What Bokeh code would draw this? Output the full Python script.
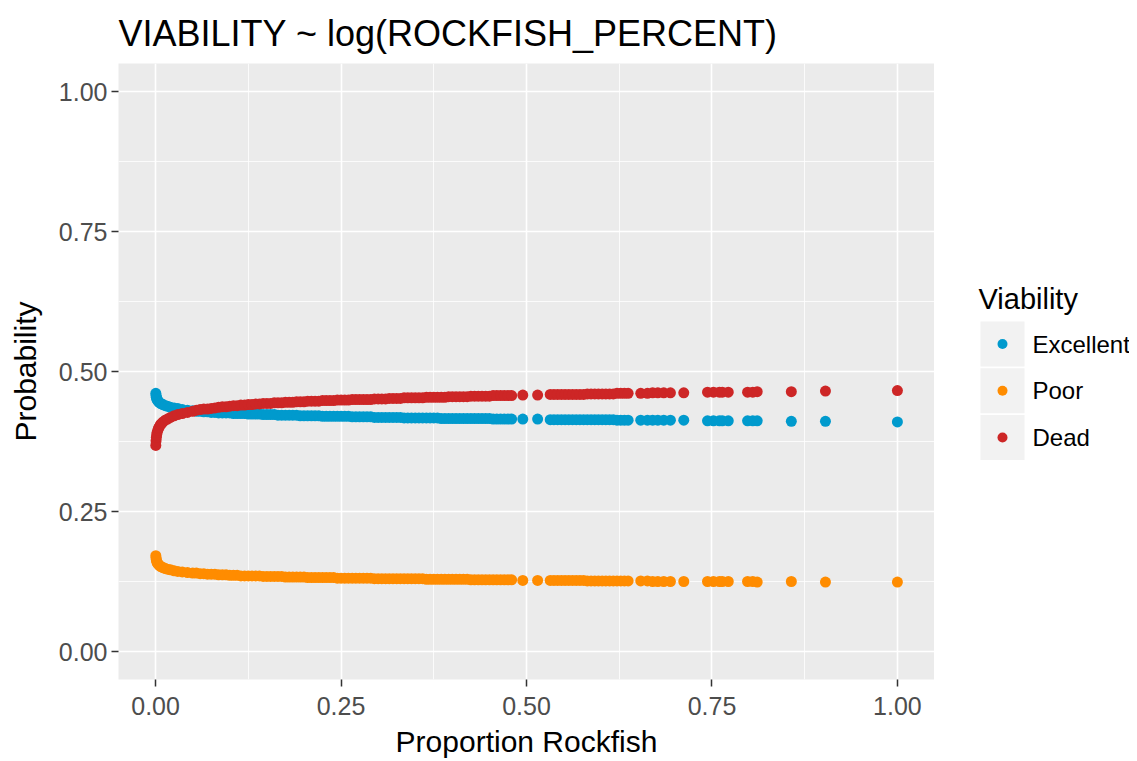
from bokeh.plotting import figure
from bokeh.models import Range1d, FixedTicker, ColumnDataSource
from bokeh.layouts import row
from bokeh.core.properties import value
from bokeh.embed import file_html
from bokeh.resources import INLINE

# ---- data ----
rockfish = [
    0.0003, 0.0006, 0.001, 0.0015, 0.002, 0.003, 0.004, 0.005, 0.0065, 0.008,
    0.010, 0.013, 0.016, 0.020, 0.025, 0.030, 0.036, 0.043, 0.050, 0.055,
    0.060, 0.065, 0.070, 0.075, 0.080, 0.085, 0.090, 0.095,
    0.100, 0.105, 0.110, 0.115, 0.120, 0.125, 0.130, 0.135, 0.140, 0.145,
    0.150, 0.155, 0.160, 0.165, 0.170, 0.175, 0.180, 0.185, 0.190, 0.195,
    0.200, 0.205, 0.210, 0.215, 0.220, 0.225, 0.230, 0.235, 0.240, 0.245,
    0.250, 0.255, 0.260, 0.265, 0.270, 0.275, 0.280, 0.285, 0.290, 0.295,
    0.300, 0.305, 0.310, 0.315, 0.320, 0.325, 0.330, 0.335, 0.340, 0.345,
    0.350, 0.355, 0.360, 0.365, 0.370, 0.375, 0.380, 0.385, 0.390, 0.395,
    0.400, 0.405, 0.410, 0.415, 0.420, 0.425, 0.430, 0.435, 0.440, 0.445,
    0.450, 0.455, 0.460, 0.465, 0.470, 0.475, 0.480,
    0.495, 0.515,
    0.532, 0.537, 0.542, 0.547, 0.552, 0.557, 0.562, 0.567, 0.572, 0.577,
    0.582, 0.587, 0.592, 0.597, 0.602, 0.607, 0.612, 0.617, 0.622, 0.627, 0.632,
    0.637, 0.654, 0.663, 0.670, 0.677, 0.685, 0.694, 0.712, 0.744, 0.752,
    0.760, 0.764, 0.772, 0.798, 0.805, 0.811, 0.857, 0.903, 1.000]

excellent = [
    0.461, 0.457, 0.454, 0.452, 0.450, 0.448, 0.446, 0.445, 0.443, 0.442,
    0.441, 0.439, 0.438, 0.436, 0.435, 0.434, 0.432, 0.431, 0.430, 0.429,
    0.429, 0.428, 0.428, 0.427, 0.427, 0.426, 0.426, 0.426,
    0.426, 0.425, 0.425, 0.425, 0.425, 0.424, 0.424, 0.424, 0.424, 0.423,
    0.423, 0.423, 0.423, 0.422, 0.422, 0.422, 0.422, 0.422, 0.422, 0.421,
    0.421, 0.421, 0.421, 0.421, 0.421, 0.420, 0.420, 0.420, 0.420, 0.420,
    0.420, 0.420, 0.420, 0.419, 0.419, 0.419, 0.419, 0.419, 0.419, 0.418,
    0.418, 0.418, 0.418, 0.418, 0.418, 0.418, 0.418, 0.417, 0.417, 0.417,
    0.417, 0.417, 0.417, 0.417, 0.417, 0.417, 0.417, 0.416, 0.416, 0.416,
    0.416, 0.416, 0.416, 0.416, 0.416, 0.416, 0.416, 0.416, 0.416, 0.416,
    0.416, 0.415, 0.415, 0.415, 0.415, 0.415, 0.415,
    0.415, 0.415,
    0.414, 0.414, 0.414, 0.414, 0.414, 0.414, 0.414, 0.414, 0.414, 0.414,
    0.414, 0.414, 0.414, 0.414, 0.414, 0.414, 0.414, 0.414, 0.413, 0.413, 0.413,
    0.413, 0.413, 0.413, 0.413, 0.413, 0.413, 0.413, 0.413, 0.412, 0.412,
    0.412, 0.412, 0.412, 0.412, 0.412, 0.412, 0.411, 0.411, 0.410]

poor = [
    0.171, 0.167, 0.164, 0.161, 0.159, 0.157, 0.155, 0.154, 0.152, 0.151,
    0.150, 0.148, 0.147, 0.146, 0.144, 0.143, 0.142, 0.141, 0.140, 0.140,
    0.139, 0.139, 0.138, 0.138, 0.138, 0.137, 0.137, 0.137,
    0.136, 0.136, 0.136, 0.135, 0.135, 0.135, 0.135, 0.135, 0.135, 0.134,
    0.134, 0.134, 0.134, 0.134, 0.134, 0.133, 0.133, 0.133, 0.133, 0.133,
    0.133, 0.132, 0.132, 0.132, 0.132, 0.132, 0.132, 0.132, 0.132, 0.131,
    0.131, 0.131, 0.131, 0.131, 0.131, 0.131, 0.131, 0.131, 0.131, 0.130,
    0.130, 0.130, 0.130, 0.130, 0.130, 0.130, 0.130, 0.130, 0.130, 0.130,
    0.130, 0.130, 0.130, 0.129, 0.129, 0.129, 0.129, 0.129, 0.129, 0.129,
    0.129, 0.129, 0.129, 0.129, 0.129, 0.128, 0.128, 0.128, 0.128, 0.128,
    0.128, 0.128, 0.128, 0.128, 0.128, 0.128, 0.128,
    0.127, 0.127,
    0.127, 0.127, 0.127, 0.127, 0.127, 0.127, 0.127, 0.127, 0.127, 0.127,
    0.126, 0.126, 0.126, 0.126, 0.126, 0.126, 0.126, 0.126, 0.126, 0.126, 0.126,
    0.126, 0.126, 0.126, 0.125, 0.125, 0.125, 0.125, 0.125, 0.125, 0.125,
    0.125, 0.125, 0.125, 0.125, 0.125, 0.124, 0.125, 0.124, 0.124]

dead = [
    0.368, 0.376, 0.382, 0.387, 0.391, 0.395, 0.399, 0.401, 0.405, 0.407,
    0.410, 0.413, 0.415, 0.418, 0.421, 0.423, 0.425, 0.427, 0.429, 0.431,
    0.432, 0.433, 0.433, 0.434, 0.435, 0.436, 0.437, 0.437,
    0.438, 0.439, 0.439, 0.440, 0.440, 0.441, 0.441, 0.442, 0.442, 0.443,
    0.443, 0.443, 0.444, 0.444, 0.444, 0.445, 0.445, 0.445, 0.446, 0.446,
    0.446, 0.447, 0.447, 0.447, 0.447, 0.448, 0.448, 0.448, 0.448, 0.449,
    0.449, 0.449, 0.449, 0.450, 0.450, 0.450, 0.450, 0.450, 0.450, 0.451,
    0.451, 0.451, 0.451, 0.452, 0.452, 0.452, 0.452, 0.453, 0.453, 0.453,
    0.453, 0.453, 0.453, 0.454, 0.454, 0.454, 0.454, 0.454, 0.454, 0.455,
    0.455, 0.455, 0.455, 0.455, 0.455, 0.456, 0.456, 0.456, 0.456, 0.456,
    0.456, 0.457, 0.457, 0.457, 0.457, 0.457, 0.457,
    0.458, 0.458,
    0.459, 0.459, 0.459, 0.459, 0.459, 0.459, 0.459, 0.459, 0.459, 0.459,
    0.460, 0.460, 0.460, 0.460, 0.460, 0.460, 0.460, 0.460, 0.461, 0.461, 0.461,
    0.461, 0.461, 0.461, 0.462, 0.462, 0.462, 0.462, 0.462, 0.463, 0.463,
    0.463, 0.463, 0.463, 0.463, 0.463, 0.464, 0.464, 0.465, 0.466]

categories = ["Excellent", "Poor", "Dead"]
colors = ["#009ACD", "#FF8C00", "#CD2626"]
series = [excellent, poor, dead]

x_ticks = [0.0, 0.25, 0.5, 0.75, 1.0]
x_minor = [0.125, 0.375, 0.625, 0.875]
y_ticks = [0.0, 0.25, 0.5, 0.75, 1.0]
y_minor = [0.125, 0.375, 0.625, 0.875]
tick_labels = ["0.00", "0.25", "0.50", "0.75", "1.00"]

FONT = "Liberation Sans"
TOP, FRAME_H, BOTTOM = 63, 616, 80
LEFT, FRAME_W, LEG_W = 118, 816, 195

# ---- main panel ----
p = figure(frame_width=FRAME_W, frame_height=FRAME_H,
           min_border_left=LEFT, min_border_right=0,
           min_border_top=TOP, min_border_bottom=BOTTOM,
           x_range=Range1d(-0.05, 1.05), y_range=Range1d(-0.05, 1.05),
           output_backend="svg", toolbar_location=None,
           title="VIABILITY ~ log(ROCKFISH_PERCENT)")

p.background_fill_color = "#EBEBEB"
p.border_fill_color = "white"
p.outline_line_color = None

p.title.text_font = FONT
p.title.text_font_size = "36px"
p.title.text_font_style = "normal"
p.title.text_color = "black"
p.title.align = "left"
p.title.standoff = 19

for ax, tk, mn in ((p.xaxis[0], x_ticks, x_minor), (p.yaxis[0], y_ticks, y_minor)):
    ax.ticker = FixedTicker(ticks=tk, minor_ticks=mn)
    ax.major_label_overrides = {t: l for t, l in zip(tk, tick_labels)}
    ax.axis_line_color = None
    ax.major_tick_line_color = "#333333"
    ax.major_tick_line_width = 1.5
    ax.major_tick_out = 7
    ax.major_tick_in = 0
    ax.minor_tick_line_color = None
    ax.major_label_text_font = FONT
    ax.major_label_text_font_size = "25px"
    ax.major_label_text_color = "#4D4D4D"
    ax.axis_label_text_font = FONT
    ax.axis_label_text_font_size = "30px"
    ax.axis_label_text_font_style = "normal"
    ax.axis_label_text_color = "black"

p.xaxis.axis_label = "Proportion Rockfish"
p.yaxis.axis_label = "Probability"
p.xaxis.major_label_standoff = 10
p.yaxis.major_label_standoff = 4
p.xaxis.axis_label_standoff = 7
p.yaxis.axis_label_standoff = 14

for g in (p.xgrid[0], p.ygrid[0]):
    g.grid_line_color = "white"
    g.grid_line_width = 1.6
    g.minor_grid_line_color = "white"
    g.minor_grid_line_width = 0.8

for name, vals, col in zip(categories, series, colors):
    src = ColumnDataSource(dict(x=rockfish, y=vals))
    p.scatter("x", "y", source=src, size=11, fill_color=col, line_color=col,
              line_width=0, marker="circle")

# ---- legend panel (ranges in page pixels) ----
lg = figure(frame_width=LEG_W, frame_height=FRAME_H,
            x_range=Range1d(LEFT + FRAME_W, LEFT + FRAME_W + LEG_W),
            y_range=Range1d(TOP + FRAME_H, TOP),
            output_backend="svg", toolbar_location=None,
            min_border_left=0, min_border_right=0,
            min_border_top=TOP, min_border_bottom=BOTTOM)
lg.axis.visible = False
lg.grid.visible = False
lg.outline_line_color = None
lg.background_fill_color = "white"
lg.border_fill_color = "white"

key_y = [343.5 + i * 46.75 for i in range(len(categories))]
key_x = [1002] * len(categories)
lsrc = ColumnDataSource(dict(x=key_x, y=key_y, c=colors, t=categories,
                             tx=[1032] * len(categories)))
lg.rect("x", "y", width=44, height=45, source=lsrc, fill_color="#F2F2F2",
        line_color=None)
lg.scatter("x", "y", source=lsrc, size=10, fill_color="c", line_color="c",
           line_width=0, marker="circle")
lg.text("tx", "y", text="t", source=lsrc, text_font=value(FONT),
        text_font_size="24px", text_baseline="middle", text_align="left",
        text_color="black")
lg.text(x=[978], y=[298], text=["Viability"], text_font=value(FONT),
        text_font_size="29px", text_baseline="middle", text_align="left",
        text_color="black")

layout = row(p, lg)
open("out.html", "w").write(file_html(layout, INLINE))
